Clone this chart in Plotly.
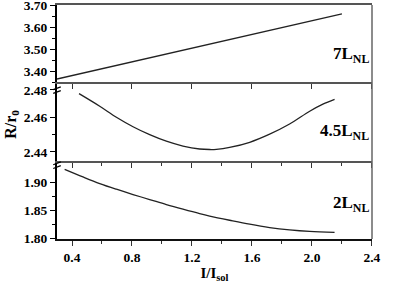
import plotly.graph_objects as go

# ---- data ----
x_7 = [0.30, 2.20]
r_7 = [3.364, 3.660]

x_45 = [0.447, 0.585, 0.696, 0.807, 0.918, 1.029, 1.140, 1.251, 1.318, 1.363, 1.451, 1.585, 1.718, 1.851, 1.985, 2.073, 2.151]
r_45 = [2.4738, 2.4665, 2.4601, 2.4546, 2.4500, 2.4462, 2.4434, 2.4417, 2.4414, 2.4415, 2.4426, 2.4456, 2.4503, 2.4562, 2.4636, 2.4677, 2.4705]

x_2 = [0.351, 0.473, 0.585, 0.696, 0.807, 0.918, 1.029, 1.140, 1.251, 1.318, 1.451, 1.585, 1.718, 1.851, 1.985, 2.151]
r_2 = [1.924, 1.9104, 1.8986, 1.8884, 1.8789, 1.870, 1.861, 1.8527, 1.8448, 1.8405, 1.833, 1.8259, 1.820, 1.8158, 1.813, 1.8112]

x_ticks = [0.4, 0.8, 1.2, 1.6, 2.0, 2.4]
x_ticktext = ["0.4", "0.8", "1.2", "1.6", "2.0", "2.4"]
top_ticks = [3.40, 3.50, 3.60, 3.70]
top_ticktext = ["3.40", "3.50", "3.60", "3.70"]
mid_ticks = [2.44, 2.46, 2.476]
mid_ticktext = ["2.44", "2.46", "2.48"]
bot_ticks = [1.80, 1.85, 1.90]
bot_ticktext = ["1.80", "1.85", "1.90"]
labels = ["7L<sub>NL</sub>", "4.5L<sub>NL</sub>", "2L<sub>NL</sub>"]

FONT = "Liberation Serif"
tickfont = dict(family=FONT, size=13.5, color="black", weight="bold")
LC = "#222222"

fig = go.Figure()
fig.add_trace(go.Scatter(x=x_7, y=r_7, mode="lines", line=dict(color=LC, width=1.3),
                         xaxis="x3", yaxis="y3", showlegend=False))
fig.add_trace(go.Scatter(x=x_45, y=r_45, mode="lines", line=dict(color=LC, width=1.3, shape="spline"),
                         xaxis="x2", yaxis="y2", showlegend=False))
fig.add_trace(go.Scatter(x=x_2, y=r_2, mode="lines", line=dict(color=LC, width=1.3, shape="spline"),
                         xaxis="x", yaxis="y", showlegend=False))

H = 233.7
d_bot = [0, 78.0 / H]
d_mid = [78.0 / H, 156.7 / H]
d_top = [156.7 / H, 1]

xcommon = dict(range=[0.3, 2.4005], showline=True, automargin=False,
               ticks="outside", ticklen=5, tickwidth=1, tickcolor="#333333",
               tickvals=x_ticks, ticktext=x_ticktext, showgrid=False, zeroline=False,
               tickfont=tickfont, ticklabeloverflow="allow")
ycommon = dict(showline=True, linecolor="black", linewidth=2, automargin=False,
               ticks="outside", ticklen=5, tickcolor="black", ticklabeloverflow="allow",
               showgrid=False, zeroline=False, tickfont=tickfont)

fig.update_layout(
    width=415, height=291,
    margin=dict(l=57.3, r=42.5, t=5, b=52.3, pad=0),
    paper_bgcolor="white", plot_bgcolor="white",
    xaxis=dict(**xcommon, anchor="y", showticklabels=True, linecolor="#111111", linewidth=2,
               minor=dict(dtick=0.2, tick0=0.2, ticks="outside", ticklen=3, tickcolor="#333333"),
               title=dict(text="I/I<sub>sol</sub>", font=dict(family=FONT, size=15, color="black", weight="bold"),
                          standoff=3)),
    xaxis2=dict(**xcommon, anchor="y2", matches="x", showticklabels=False, linecolor="#555555", linewidth=1.5,
                minor=dict(dtick=0.2, tick0=0.2, ticks="outside", ticklen=3, tickcolor="#333333")),
    xaxis3=dict(**xcommon, anchor="y3", matches="x", showticklabels=False, mirror=True,
                linecolor="#555555", linewidth=1.5),
    yaxis=dict(**ycommon, domain=d_bot, range=[1.7995, 1.939], anchor="x",
               tickvals=bot_ticks, ticktext=bot_ticktext,
               minor=dict(tickvals=[1.825, 1.875], ticks="outside", ticklen=3, tickcolor="black")),
    yaxis2=dict(**ycommon, domain=d_mid, range=[2.4348, 2.4805], anchor="x2",
                tickvals=mid_ticks, ticktext=mid_ticktext,
                minor=dict(tickvals=[2.45], ticks="outside", ticklen=3, tickcolor="black")),
    yaxis3=dict(**ycommon, domain=d_top, range=[3.35, 3.7008], anchor="x3",
                tickvals=top_ticks, ticktext=top_ticktext,
                minor=dict(tickvals=[3.35, 3.45, 3.55, 3.65], ticks="outside", ticklen=3, tickcolor="black")),
)

# right border
fig.add_shape(type="line", xref="paper", yref="paper", x0=1, x1=1, y0=0, y1=1,
              line=dict(color="#666666", width=1.5))

# axis break marks
for yp in [(238.7 - 90) / H, (238.7 - 165) / H]:
    for dy in (-0.008, 0.008):
        fig.add_shape(type="line", xref="paper", yref="paper",
                      x0=-0.012, x1=0.012, y0=yp + dy - 0.006, y1=yp + dy + 0.006,
                      line=dict(color="black", width=1.2))

# panel labels
lab_font = dict(family=FONT, size=17, color="black", weight="bold")
for txt, ypx in zip(labels, [55, 132, 204]):
    fig.add_annotation(text=txt, xref="paper", yref="paper", x=0.996, y=(238.7 - ypx) / H,
                       xanchor="right", yanchor="middle", showarrow=False, font=lab_font)

# y title
fig.add_annotation(text="R/r<sub>0</sub>", xref="paper", yref="paper", x=-0.147, y=(238.7 - 124) / H,
                   xanchor="center", yanchor="middle", textangle=-90, showarrow=False,
                   font=dict(family=FONT, size=16, color="black", weight="bold"))

fig.write_html("out.html", config={"displayModeBar": False},
               post_script="document.body.style.margin='0';document.body.style.overflow='hidden';")
